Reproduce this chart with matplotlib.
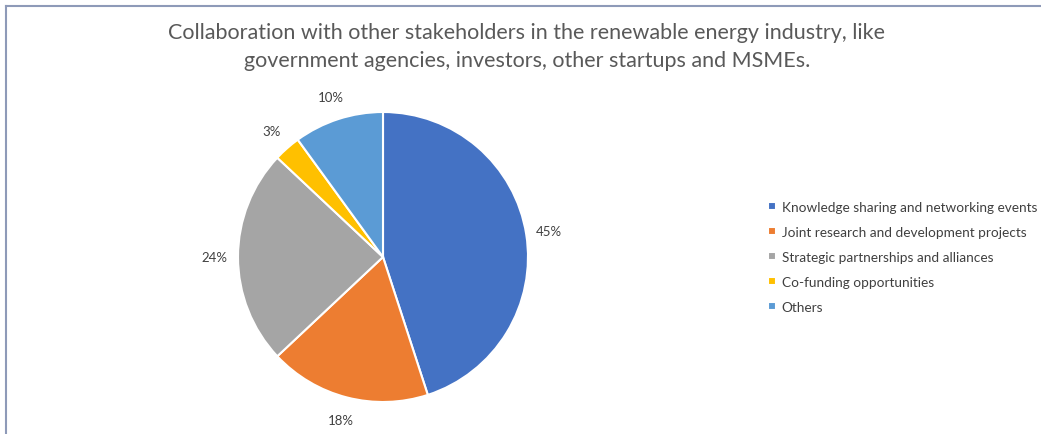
import matplotlib.pyplot as plt
from matplotlib.lines import Line2D

categories = ['Knowledge sharing and networking events',
              'Joint research and development projects',
              'Strategic partnerships and alliances',
              'Co-funding opportunities',
              'Others']
shares = [45, 18, 24, 3, 10]
colors = ['#4472C4', '#ED7D31', '#A5A5A5', '#FFC000', '#5B9BD5']

title = ('Collaboration with other stakeholders in the renewable energy industry, like\n'
         'government agencies, investors, other startups and MSMEs.')

plt.rcParams['font.family'] = ['Lato', 'DejaVu Sans']

W, H = 1041, 435
fig = plt.figure(figsize=(W / 100, H / 100), dpi=100)

# pie axes placed in pixels: center (383, 258), radius 145
cx, cy, r = 383, 258, 145
ax = fig.add_axes([(cx - r) / W, (H - cy - r) / H, 2 * r / W, 2 * r / H])
wedges, texts, autotexts = ax.pie(
    shares, colors=colors, startangle=90, counterclock=False,
    autopct='%1.0f%%', pctdistance=1.16,
    wedgeprops=dict(edgecolor='white', linewidth=1.5),
    textprops=dict(color='#404040', fontsize=9.5))
ax.set_aspect('equal')
ax.set_xlim(-1, 1)
ax.set_ylim(-1, 1)

fig.text(527 / W, 1 - 47 / H, title, ha='center', va='center',
         fontsize=15.5, color='#595959', linespacing=1.45)

fig.legend(wedges, categories, loc='center left',
           bbox_to_anchor=(756 / W, 1 - 258 / H), frameon=False,
           fontsize=9.8, labelcolor='#404040',
           handlelength=0.55, handleheight=0.55, handletextpad=0.45,
           labelspacing=0.95)

# thin frame along the top and left edges
fig.add_artist(Line2D([6 / W, 6 / W], [0, 1 - 7 / H], color='#8E9AB8', lw=1.5,
                      transform=fig.transFigure))
fig.add_artist(Line2D([6 / W, 1], [1 - 7 / H, 1 - 7 / H], color='#8E9AB8', lw=1.5,
                      transform=fig.transFigure))

fig.savefig('out.png', dpi=100, facecolor='white')
